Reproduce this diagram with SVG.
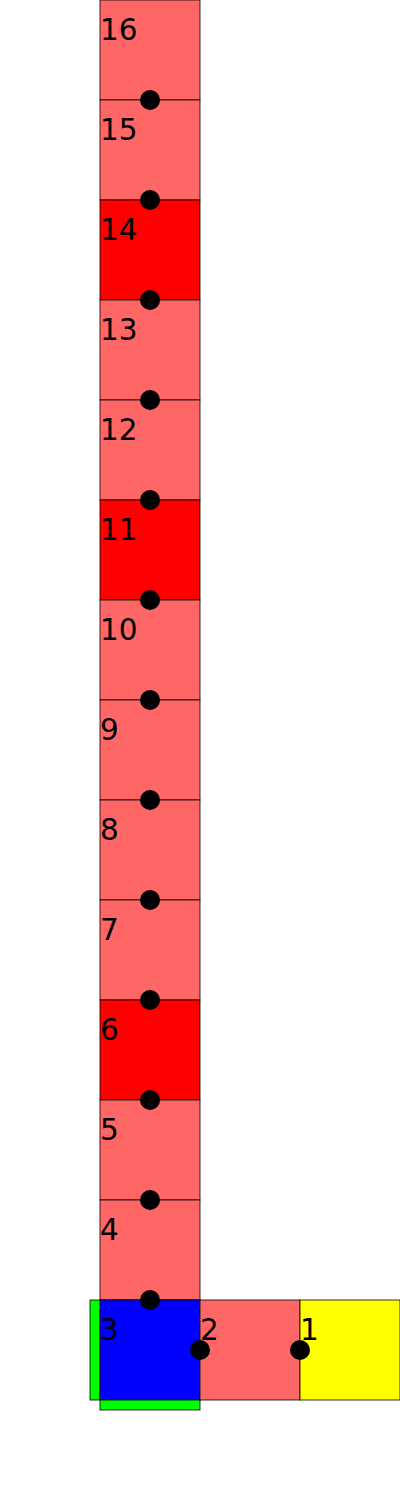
<svg xmlns="http://www.w3.org/2000/svg" width="400" height="1500" viewBox="0 0 400 1500">
<style>
rect{stroke:#000;stroke-width:1;stroke-opacity:0.8}
.l{fill:#ff6666}.r{fill:#ff0000}.b{fill:#0000ff}.g{fill:#00ff00}.y{fill:#ffff00}
text{font-family:"DejaVu Sans",sans-serif;font-size:29.5px;fill:#000}
circle{fill:#000}
</style>
<rect width="400" height="1500" fill="#fff" style="stroke:none"/>
<g id="n16"><rect class="l" x="100" y="0" width="100" height="100"/><text x="100" y="40">16</text></g>
<g id="n15"><rect class="l" x="100" y="100" width="100" height="100"/><text x="100" y="140">15</text></g>
<g id="n14"><rect class="r" x="100" y="200" width="100" height="100"/><text x="100" y="240">14</text></g>
<g id="n13"><rect class="l" x="100" y="300" width="100" height="100"/><text x="100" y="340">13</text></g>
<g id="n12"><rect class="l" x="100" y="400" width="100" height="100"/><text x="100" y="440">12</text></g>
<g id="n11"><rect class="r" x="100" y="500" width="100" height="100"/><text x="100" y="540">11</text></g>
<g id="n10"><rect class="l" x="100" y="600" width="100" height="100"/><text x="100" y="640">10</text></g>
<g id="n9"><rect class="l" x="100" y="700" width="100" height="100"/><text x="100" y="740">9</text></g>
<g id="n8"><rect class="l" x="100" y="800" width="100" height="100"/><text x="100" y="840">8</text></g>
<g id="n7"><rect class="l" x="100" y="900" width="100" height="100"/><text x="100" y="940">7</text></g>
<g id="n6"><rect class="r" x="100" y="1000" width="100" height="100"/><text x="100" y="1040">6</text></g>
<g id="n5"><rect class="l" x="100" y="1100" width="100" height="100"/><text x="100" y="1140">5</text></g>
<g id="n4"><rect class="l" x="100" y="1200" width="100" height="100"/><text x="100" y="1240">4</text></g>
<g id="n3"><rect class="g" x="90" y="1300" width="110" height="100"/><rect class="g" x="100" y="1310" width="100" height="100"/><rect class="b" x="100" y="1300" width="100" height="100"/><text x="100" y="1340">3</text></g>
<g id="n2"><rect class="l" x="200" y="1300" width="100" height="100"/><text x="200" y="1340">2</text></g>
<g id="n1"><rect class="y" x="300" y="1300" width="100" height="100"/><text x="300" y="1340">1</text></g>
<g id="connectors">
<circle cx="150" cy="100" r="10"/><circle cx="150" cy="200" r="10"/><circle cx="150" cy="300" r="10"/><circle cx="150" cy="400" r="10"/><circle cx="150" cy="500" r="10"/><circle cx="150" cy="600" r="10"/><circle cx="150" cy="700" r="10"/><circle cx="150" cy="800" r="10"/><circle cx="150" cy="900" r="10"/><circle cx="150" cy="1000" r="10"/><circle cx="150" cy="1100" r="10"/><circle cx="150" cy="1200" r="10"/><circle cx="150" cy="1300" r="10"/><circle cx="200" cy="1350" r="10"/><circle cx="300" cy="1350" r="10"/>
</g>
</svg>
